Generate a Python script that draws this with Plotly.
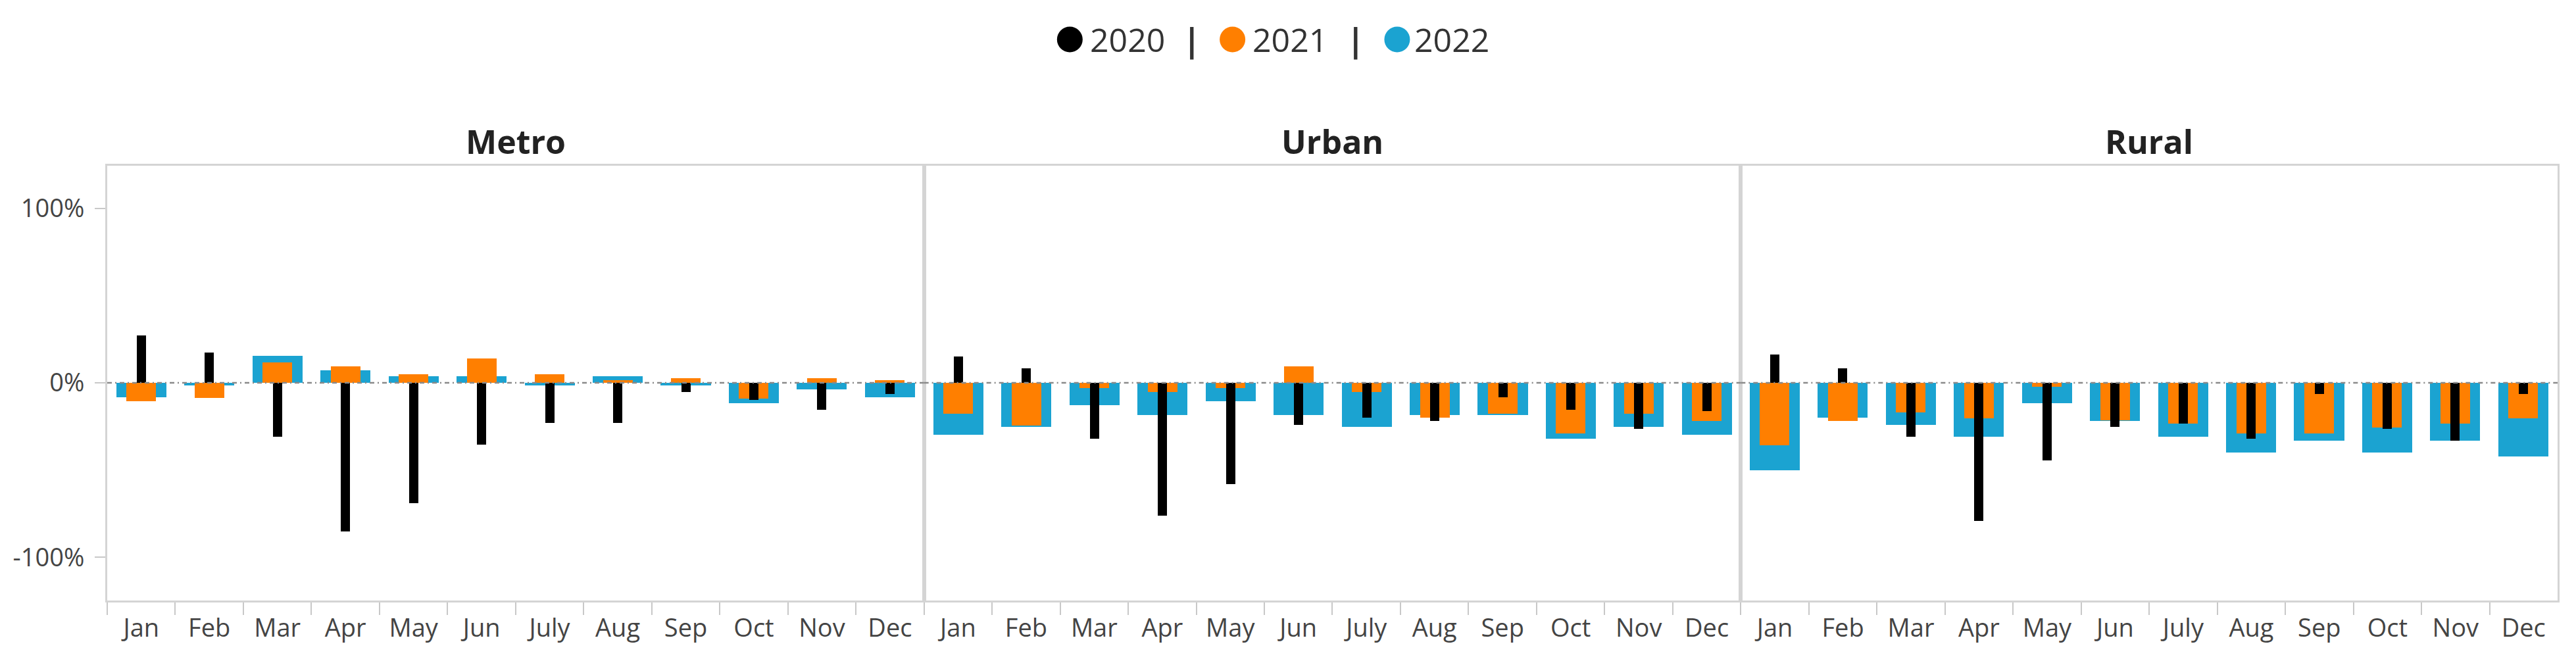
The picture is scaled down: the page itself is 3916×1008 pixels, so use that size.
import plotly.graph_objects as go
from plotly.subplots import make_subplots

# ---------------- data ----------------
months = ["Jan", "Feb", "Mar", "Apr", "May", "Jun", "July", "Aug", "Sep", "Oct", "Nov", "Dec"]
regions = ["Metro", "Urban", "Rural"]
years = ["2020", "2021", "2022"]

metro_2020 = [27.3, 17.2, -30.9, -85.1, -69.1, -35.5, -23.1, -23.1, -5.2, -9.7, -15.3, -6.3]
metro_2021 = [-10.7, -8.6, 11.8, 9.4, 5.0, 13.9, 5.0, 1.5, 2.7, -9.2, 2.7, 1.4]
metro_2022 = [-8.4, -1.5, 15.3, 7.3, 3.6, 3.6, -1.7, 3.6, -1.7, -11.6, -3.8, -8.4]

urban_2020 = [15.1, 8.2, -31.9, -76.1, -58.0, -24.2, -20.0, -21.9, -8.4, -15.3, -26.5, -16.2]
urban_2021 = [-17.8, -24.5, -3.0, -5.2, -2.9, 9.4, -5.2, -19.8, -17.9, -29.0, -17.9, -21.9]
urban_2022 = [-29.8, -25.4, -12.8, -18.5, -10.7, -18.5, -25.4, -18.5, -18.5, -31.9, -25.4, -29.8]

rural_2020 = [16.2, 8.2, -30.9, -79.2, -44.5, -25.4, -23.5, -32.1, -6.3, -26.5, -33.0, -6.3]
rural_2021 = [-35.9, -21.8, -16.8, -20.2, -2.1, -21.6, -23.5, -29.0, -29.0, -25.8, -23.5, -20.2]
rural_2022 = [-50.0, -19.8, -24.0, -30.9, -11.6, -22.0, -30.9, -39.9, -33.0, -39.9, -33.0, -42.2]

ytick_vals = [-100, 0, 100]
ytick_text = ["-100%", "0%", "100%"]

series = {
    "Metro": [metro_2020, metro_2021, metro_2022],
    "Urban": [urban_2020, urban_2021, urban_2022],
    "Rural": [rural_2020, rural_2021, rural_2022],
}

# ---------------- style ----------------
OFF = 8  # default page body margin
W, H = 3900, 992
ML, MR, MT, MB = 152, 20, 244, 87
PW, PH = W - ML - MR, H - MT - MB
COLORS = {"2020": "#000000", "2021": "#ff7f00", "2022": "#1ba3d1"}
WIDTHS = {"2020": 0.135, "2021": 0.435, "2022": 0.735}
FONT = "Open Sans"
BORDER = "#d4d4d4"


def pxx(px):
    # page x-pixel -> paper coordinate
    return (px - OFF - ML) / PW


def pxy(py):
    # page y-pixel -> paper coordinate
    return (H - MB - (py - OFF)) / PH


fig = make_subplots(rows=1, cols=3, shared_yaxes=True, horizontal_spacing=0)

for i, reg in enumerate(regions):
    vals = series[reg]
    # widest (2022) first, narrowest (2020) on top
    for yi in [2, 1, 0]:
        yr = years[yi]
        fig.add_trace(
            go.Bar(
                x=months,
                y=vals[yi],
                name=yr,
                width=WIDTHS[yr],
                marker=dict(color=COLORS[yr], line=dict(width=0)),
                showlegend=False,
                hovertemplate=reg + " %{x} " + yr + ": %{y:.1f}%<extra></extra>",
            ),
            row=1,
            col=i + 1,
        )

fig.update_layout(
    width=W,
    height=H,
    barmode="overlay",
    bargap=0,
    plot_bgcolor="white",
    paper_bgcolor="white",
    margin=dict(l=ML, r=MR, t=MT, b=MB, pad=0),
    font=dict(family=FONT, size=38, color="#444444"),
    showlegend=False,
)

fig.update_xaxes(
    type="category",
    categoryorder="array",
    categoryarray=months,
    range=[-0.5, 11.5],
    showline=True,
    linecolor=BORDER,
    linewidth=3,
    mirror=True,
    ticks="outside",
    tickson="boundaries",
    ticklen=19,
    tickwidth=2,
    tickcolor="#c8c8c8",
    showgrid=False,
    zeroline=False,
    tickfont=dict(family=FONT, size=38, color="#444444"),
    ticklabelstandoff=6,
)

fig.update_yaxes(
    range=[-124.7, 124.3],
    tickvals=ytick_vals,
    ticktext=ytick_text,
    showline=True,
    linecolor=BORDER,
    linewidth=3,
    mirror=True,
    showgrid=False,
    zeroline=False,
    ticks="",
)
fig.update_yaxes(
    ticks="outside",
    ticklen=16,
    tickwidth=2,
    tickcolor="#c8c8c8",
    tickfont=dict(family=FONT, size=38, color="#444444"),
    ticklabelstandoff=8,
    row=1,
    col=1,
)

# zero reference lines (dash-dot)
shapes = []
for n in ["", "2", "3"]:
    shapes.append(
        dict(
            type="line",
            xref=f"x{n} domain",
            x0=0,
            x1=1,
            yref=f"y{n}",
            y0=0,
            y1=0,
            line=dict(color="#8a8a8a", width=2.5, dash="7px,5px,2px,5px"),
            layer="above",
        )
    )

# legend circles
legend_circles = [(1624.5, "2020"), (1872, "2021"), (2122.5, "2022")]
for cx, yr in legend_circles:
    shapes.append(
        dict(
            type="circle",
            xref="paper",
            yref="paper",
            xsizemode="pixel",
            ysizemode="pixel",
            xanchor=pxx(cx),
            yanchor=pxy(60),
            x0=-19.5,
            x1=19.5,
            y0=-19.5,
            y1=19.5,
            fillcolor=COLORS[yr],
            line=dict(width=0),
        )
    )
fig.update_layout(shapes=shapes)

annotations = []
# panel titles
panel_w = PW / 3
for i, reg in enumerate(regions):
    annotations.append(
        dict(
            text=f"<b>{reg}</b>",
            xref="paper",
            yref="paper",
            x=pxx(OFF + ML + panel_w * (i + 0.5)),
            y=pxy(215),
            xanchor="center",
            yanchor="middle",
            showarrow=False,
            font=dict(family=FONT, size=50, color="#222222"),
        )
    )

# legend texts and separators
for lx, yr in [(1653, "2020"), (1900, "2021"), (2147, "2022")]:
    annotations.append(
        dict(
            text=yr,
            xref="paper",
            yref="paper",
            x=pxx(lx),
            y=pxy(60),
            xanchor="left",
            yanchor="middle",
            showarrow=False,
            font=dict(family=FONT, size=50, color="#333333"),
        )
    )
for sx in [1810, 2060]:
    annotations.append(
        dict(
            text="<b>|</b>",
            xref="paper",
            yref="paper",
            x=pxx(sx),
            y=pxy(60),
            xanchor="center",
            yanchor="middle",
            showarrow=False,
            font=dict(family=FONT, size=50, color="#333333"),
        )
    )
fig.update_layout(annotations=annotations)

fig.write_html("out.html")
